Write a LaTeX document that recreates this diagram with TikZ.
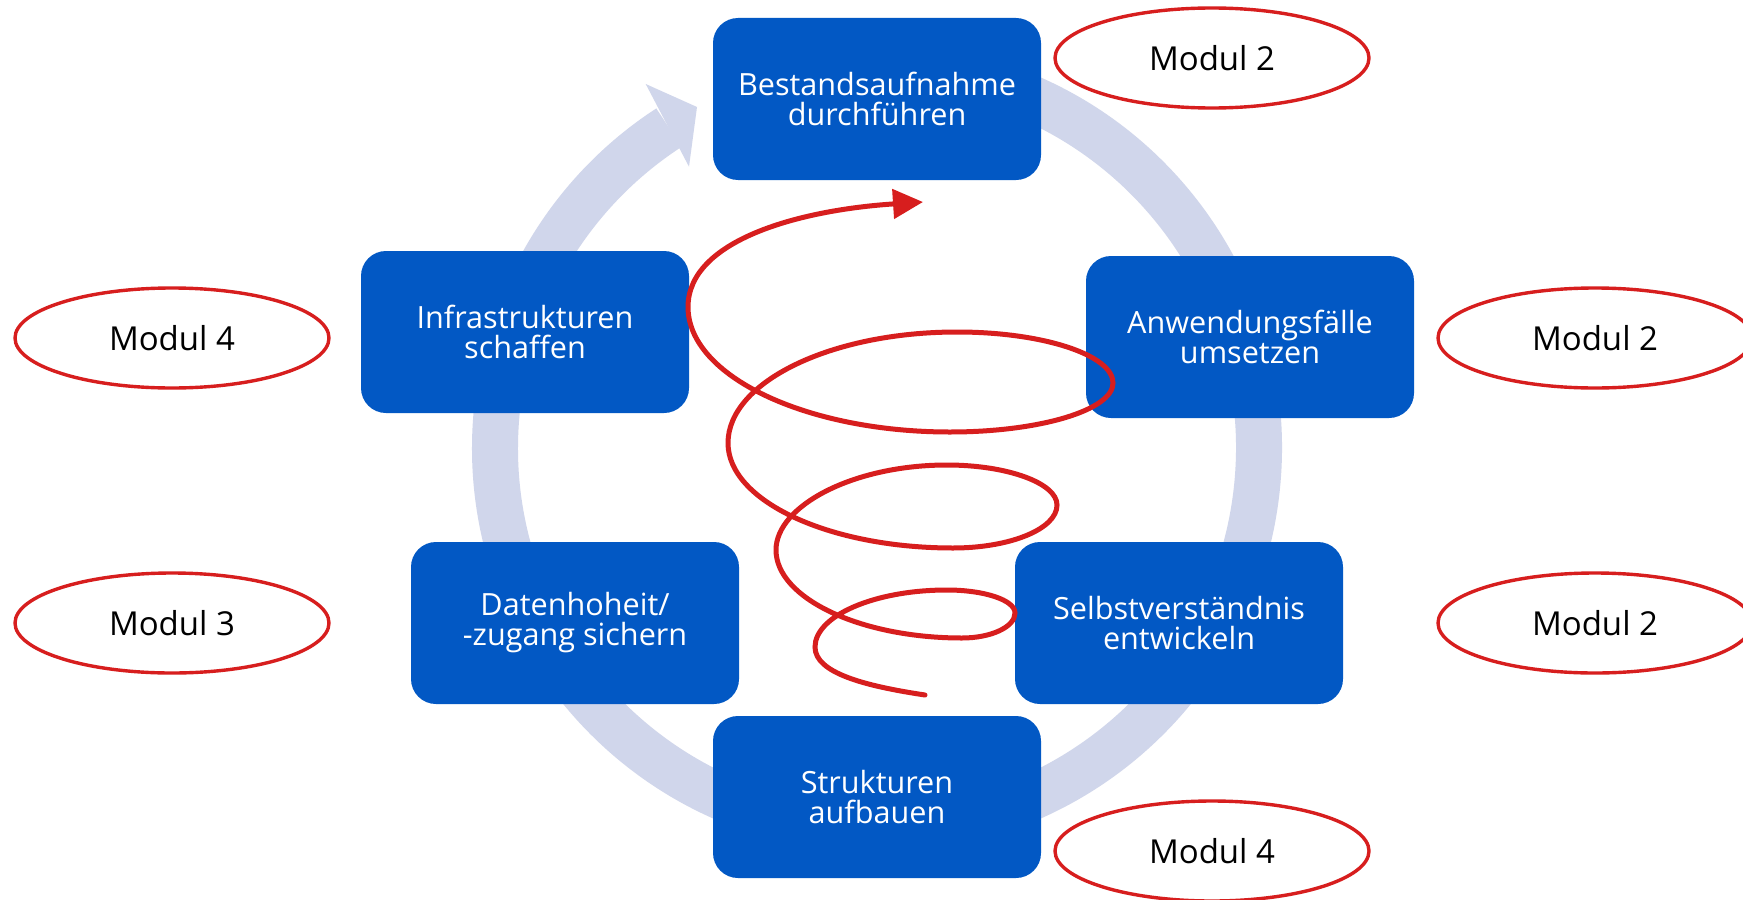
\documentclass[tikz,border=0pt]{standalone}
\usepackage{fontspec}
\setmainfont{Open Sans}
\usepackage{tikz}
\usetikzlibrary{
  shapes.geometric,
  arrows.meta,
  positioning
}
\definecolor{boxFill}{HTML}{0258C4}
\definecolor{ringFill}{HTML}{D0D6EB}
\definecolor{markRed}{HTML}{D71E1E}
\tikzset{
  stepbox/.style={
    rectangle, rounded corners=12.5pt, align=center,
    fill=boxFill, text=white, inner sep=0pt,
    minimum width=164pt, minimum height=81pt,
    font=\fontsize{15.3}{15}\selectfont
  },
  modul/.style={
    ellipse, draw=markRed, line width=1.7pt, inner sep=0pt,
    minimum width=157pt, minimum height=50pt,
    font=\fontsize{16.5}{18}\selectfont
  },
  ring/.style={draw=ringFill, line width=23pt},
  spiral/.style={draw=markRed, line width=2.5pt, line cap=round,
    -{Triangle[length=15pt,width=14.5pt]}}
}

\begin{document}
\begin{tikzpicture}[x=0.5pt, y=-0.5pt]

    \path[fill=white, use as bounding box] (0,0) rectangle (1743,899);

    % cycle ring with its head
    \coordinate (C) at (877,448);
    \draw[ring] (C) ++(-85:382) arc[start angle=-85, end angle=237, radius=382];
    \fill[ringFill] (645.7,84) -- (697,107) -- (689,166.7) -- cycle;

    % steps
    \node[stepbox] (best)   at (877,99)   {Bestandsaufnahme\\durchführen};
    \node[stepbox] (anw)    at (1250,337) {Anwendungsfälle\\umsetzen};
    \node[stepbox] (selbst) at (1179,623) {Selbstverständnis\\entwickeln};
    \node[stepbox] (strukt) at (877,797)  {Strukturen\\aufbauen};
    \node[stepbox] (daten)  at (575,623)  {Datenhoheit/\\-zugang sichern};
    \node[stepbox] (infra)  at (525,332)  {Infrastrukturen\\schaffen};

    % spiral, from its free end up to the first step
    \coordinate (sp start) at (925,695);
    \coordinate (sp tip) at (923,202);
    \draw[spiral] (sp start)
      .. controls (865,686) and (815,673) .. (815,647)
      .. controls (815,616) and (874,590) .. (947,590)
      .. controls (984,590) and (1015,600) .. (1015,613)
      .. controls (1015,627) and (991,638) .. (962,638)
      .. controls (860,638) and (776,598) .. (776,550)
      .. controls (776,506) and (853,465) .. (947,465)
      .. controls (1007,465) and (1057,483) .. (1057,505)
      .. controls (1057,529) and (1010,548) .. (953,548)
      .. controls (829,548) and (728,501) .. (728,443)
      .. controls (728,382) and (831,332) .. (957,332)
      .. controls (1043,332) and (1113,355) .. (1113,383)
      .. controls (1113,410) and (1040,432) .. (950,432)
      .. controls (806,432) and (688,376) .. (688,307)
      .. controls (688,240) and (800,210) .. (sp tip);

    % modules
    \node[modul] (m best)   at (1212,58)  {Modul 2};
    \node[modul] (m anw)    at (1595,338) {Modul 2};
    \node[modul] (m selbst) at (1595,623) {Modul 2};
    \node[modul] (m strukt) at (1212,851) {Modul 4};
    \node[modul] (m daten)  at (172,623)  {Modul 3};
    \node[modul] (m infra)  at (172,338)  {Modul 4};

  \end{tikzpicture}
\end{document}
